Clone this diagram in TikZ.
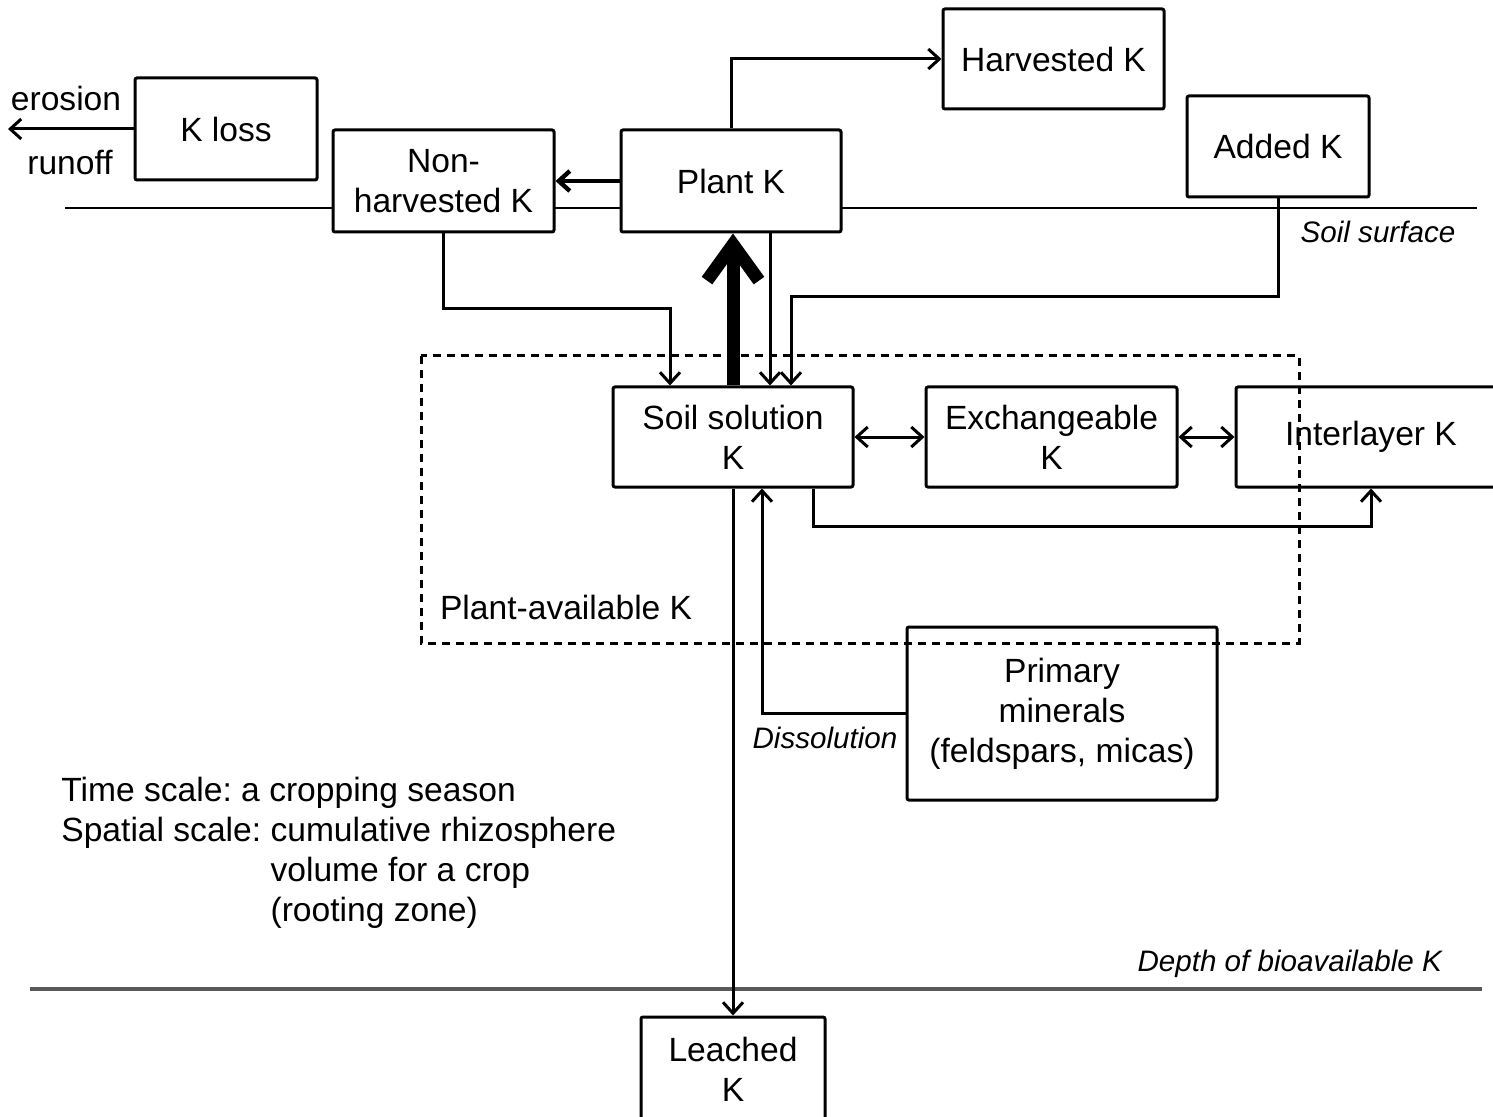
\documentclass[tikz,border=0pt]{standalone}
\usepackage{fontspec}
\setmainfont{Liberation Sans}
\usetikzlibrary{arrows.meta}
\frenchspacing

\begin{document}
\begin{tikzpicture}[x=0.5pt, y=-0.5pt, >={Straight Barb[length=5.5pt,width=10pt]},
  box/.style={draw, line width=1.5pt, fill=white, align=center, inner sep=0pt, rounded corners=1pt, font=\fontsize{16.8}{20}\selectfont},
  txt/.style={font=\fontsize{16.8}{20}\selectfont},
  lbl/.style={font=\fontsize{14.8}{18}\selectfont\itshape},
  flow/.style={->, line width=1.5pt}]
\useasboundingbox (0,0) rectangle (1493,1117);
\draw[line width=0.9pt] (65,208) -- (1477,208);
\draw[line width=2pt, black!65] (30,989) -- (1482,989);

\node[box, minimum width=91pt, minimum height=51pt] (kloss) at (226,129) {K loss};
\node[box, minimum width=110.5pt, minimum height=51pt] (nonharv) at (443.5,181) {Non-\\harvested K};
\node[box, minimum width=110pt, minimum height=51pt] (plant) at (731,181) {Plant K};
\node[box, minimum width=110.5pt, minimum height=50pt] (harv) at (1053.5,59) {Harvested K};
\node[box, minimum width=91pt, minimum height=50.5pt] (added) at (1278,146.5) {Added K};
\node[box, minimum width=120pt, minimum height=50pt] (soilsol) at (733,437) {Soil solution\\K};
\node[box, minimum width=125.5pt, minimum height=50pt] (exch) at (1051.5,437) {Exchangeable\\K};
\node[box, minimum width=135pt, minimum height=50pt] (inter) at (1371,437) {Interlayer K};
\node[box, minimum width=155pt, minimum height=86.5pt] (primary) at (1062,713.5) {Primary\\minerals\\(feldspars, micas)};
\node[box, minimum width=92pt, minimum height=52pt] (leached) at (733,1069) {Leached\\K};

\draw[dashed, line width=1.5pt, dash pattern=on 4pt off 3pt] (421,356) rectangle (1299,643);

\coordinate (lossend) at (8,128);
\draw[flow] (kloss.west) -- (kloss.west -| lossend);
\node[txt] (erosion) at (66,98) {erosion};
\node[txt] (runoff) at (70,163) {runoff};

\draw[flow, line width=2.2pt] (plant.west) -- (nonharv.east);
\draw[flow] (plant.north) |- (harv.west);
\draw[flow] (nonharv.south) -- ++(0,75) -| ([xshift=-31.5pt]soilsol.north);
\draw[line width=6.5pt, -{Straight Barb[length=18pt,width=26pt]}] (soilsol.north) -- (soilsol.north |- plant.south);
\draw[flow] ([xshift=19.5pt]plant.south) -- ([xshift=19.5pt]plant.south |- soilsol.north);
\draw[flow] (added.south) -- ++(0,98) -| ([xshift=29pt]soilsol.north);
\draw[flow, <->] (soilsol.east) -- (exch.west);
\draw[flow, <->] (exch.east) -- (inter.west);
\draw[flow] ([xshift=40pt]soilsol.south) -- ++(0,38) -| (inter.south);
\draw[flow] (primary.west) -| ([xshift=14.5pt]soilsol.south);
\draw[flow] (soilsol.south) -- (leached.north);

\node[lbl] (surface) at (1378,232) {Soil surface};
\node[lbl, anchor=east] (depth) at (1449,964) {Depth of bioavailable K};
\node[lbl] (dissol) at (825,738) {Dissolution};
\node[txt, anchor=west] (availlbl) at (433,607) {Plant-available K};
\node[txt, align=left, anchor=west, inner sep=0pt] (scales) at (61,853) {Time scale: a cropping season\\Spatial scale: cumulative rhizosphere\\\phantom{Spatial scale: }volume for a crop\\\phantom{Spatial scale: }(rooting zone)};
\end{tikzpicture}
\end{document}
